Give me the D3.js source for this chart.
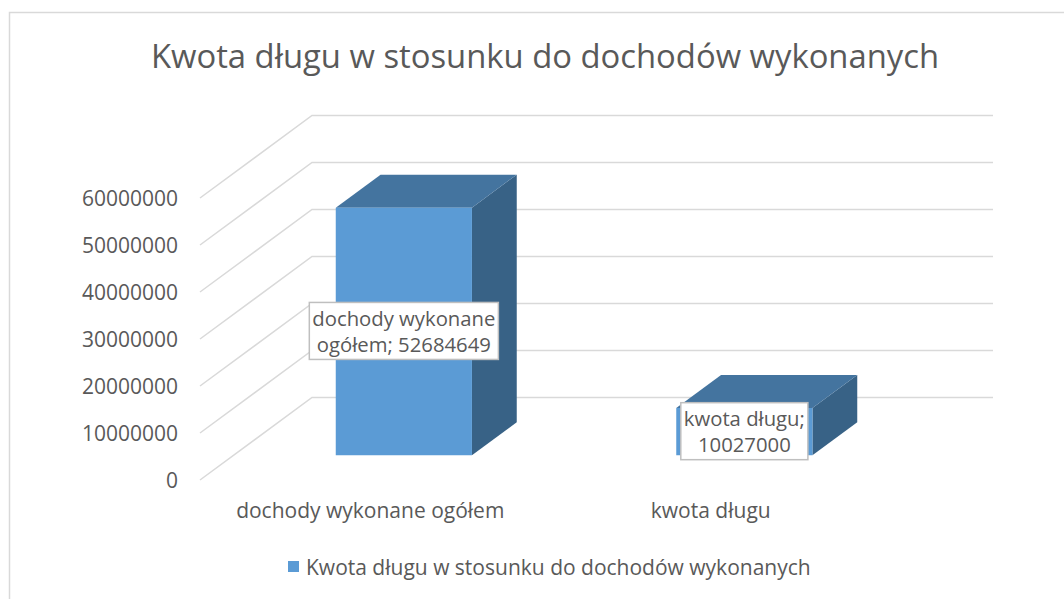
<!DOCTYPE html>
<html>
<head>
<meta charset="utf-8">
<script src="https://cdn.jsdelivr.net/npm/d3@7"></script>
<style>
  body { margin: 0; background: #fff; }
  svg text { font-family: "Open Sans", sans-serif; fill: #595959; }
</style>
</head>
<body>
<div id="chart"></div>
<script>
const categories = ["dochody wykonane ogółem", "kwota długu"];
const values = [52684649, 10027000];
const yTicks = [0, 10000000, 20000000, 30000000, 40000000, 50000000, 60000000];
const labelLines = [["dochody wykonane", "ogółem; 52684649"], ["kwota długu;", "10027000"]];
const seriesName = "Kwota długu w stosunku do dochodów wykonanych";

const width = 1064, height = 599;
const depthX = 112, depthY = -82.5;   // oblique offset of the back wall

const svg = d3.select("#chart").append("svg")
    .attr("width", width)
    .attr("height", height);

// chart area frame
svg.append("rect")
    .attr("x", 9.5).attr("y", 12.5)
    .attr("width", 1080).attr("height", 620)
    .attr("fill", "none")
    .attr("stroke", "#d9d9d9")
    .attr("stroke-width", 1.5);

svg.append("text")
    .attr("x", 545).attr("y", 68)
    .attr("text-anchor", "middle")
    .style("font-size", "32.8px")
    .text(seriesName);

const x = d3.scaleBand().domain(categories).range([200, 881]).padding(0);
const y = d3.scaleLinear().domain([0, 60000000]).range([480, 198]);

const proj = (px, py, t) => [px + depthX * t, py + depthY * t];

// grid: floor diagonal + back wall line for each tick
const grid = svg.append("g");
yTicks.forEach(v => {
    const a = proj(x.range()[0], y(v), 0);
    const b = proj(x.range()[0], y(v), 1);
    const c = proj(x.range()[1], y(v), 1);
    grid.append("path")
        .attr("d", d3.line()([a, b, c]))
        .attr("fill", "none")
        .attr("stroke", "#d9d9d9")
        .attr("stroke-width", 1.5);
});

// y tick labels
svg.append("g").selectAll("text")
    .data(yTicks)
    .enter().append("text")
    .attr("x", 178)
    .attr("y", d => y(d))
    .attr("dy", "0.36em")
    .attr("text-anchor", "end")
    .style("font-size", "21px")
    .text(d => d);

// category labels along the front edge
svg.append("g").selectAll("text")
    .data(categories)
    .enter().append("text")
    .attr("x", d => x(d) + x.bandwidth() / 2)
    .attr("y", 518)
    .attr("text-anchor", "middle")
    .style("font-size", "21px")
    .text(d => d);

// 3D bars
const barW = x.bandwidth() * 0.4;
const tFront = 0.3, tBack = 0.7;
const bars = svg.append("g");
categories.forEach((c, i) => {
    const cx = x(c) + x.bandwidth() / 2;
    const x0 = cx - barW / 2, x1 = cx + barW / 2;
    const yTop = y(values[i]), yBot = y(0);
    const ftl = proj(x0, yTop, tFront), ftr = proj(x1, yTop, tFront);
    const fbl = proj(x0, yBot, tFront), fbr = proj(x1, yBot, tFront);
    const btl = proj(x0, yTop, tBack), btr = proj(x1, yTop, tBack);
    const bbr = proj(x1, yBot, tBack);
    const poly = pts => "M" + pts.map(p => p.join(",")).join("L") + "Z";
    bars.append("path").attr("d", poly([ftr, btr, bbr, fbr])).attr("fill", "#386286");
    bars.append("path").attr("d", poly([ftl, ftr, btr, btl])).attr("fill", "#44749f");
    bars.append("path").attr("d", poly([ftl, ftr, fbr, fbl])).attr("fill", "#5b9bd5");
});

// data labels
const labels = svg.append("g");
categories.forEach((c, i) => {
    const cx = x(c) + x.bandwidth() / 2;
    const mid = proj(cx, (y(values[i]) + y(0)) / 2, tFront);
    const g = labels.append("g").attr("transform", `translate(${mid[0]},${mid[1]})`);
    const box = g.append("rect").attr("fill", "#fff").attr("stroke", "#bfbfbf").attr("stroke-width", 1.5);
    const t = g.append("text").attr("text-anchor", "middle").style("font-size", "20.3px");
    labelLines[i].forEach((ln, j) => {
        t.append("tspan").attr("x", 0).attr("y", (j - 0.5) * 26).attr("dy", "0.36em").text(ln);
    });
    const bb = t.node().getBBox();
    box.attr("x", bb.x - 3).attr("y", -29).attr("width", bb.width + 6).attr("height", 57);
});

// legend
const legend = svg.append("g");
legend.append("rect")
    .attr("x", 288).attr("y", 561)
    .attr("width", 11).attr("height", 11)
    .attr("fill", "#5b9bd5");
legend.append("text")
    .attr("x", 306).attr("y", 567)
    .attr("dy", "0.36em")
    .style("font-size", "21px")
    .text(seriesName);
</script>
</body>
</html>
